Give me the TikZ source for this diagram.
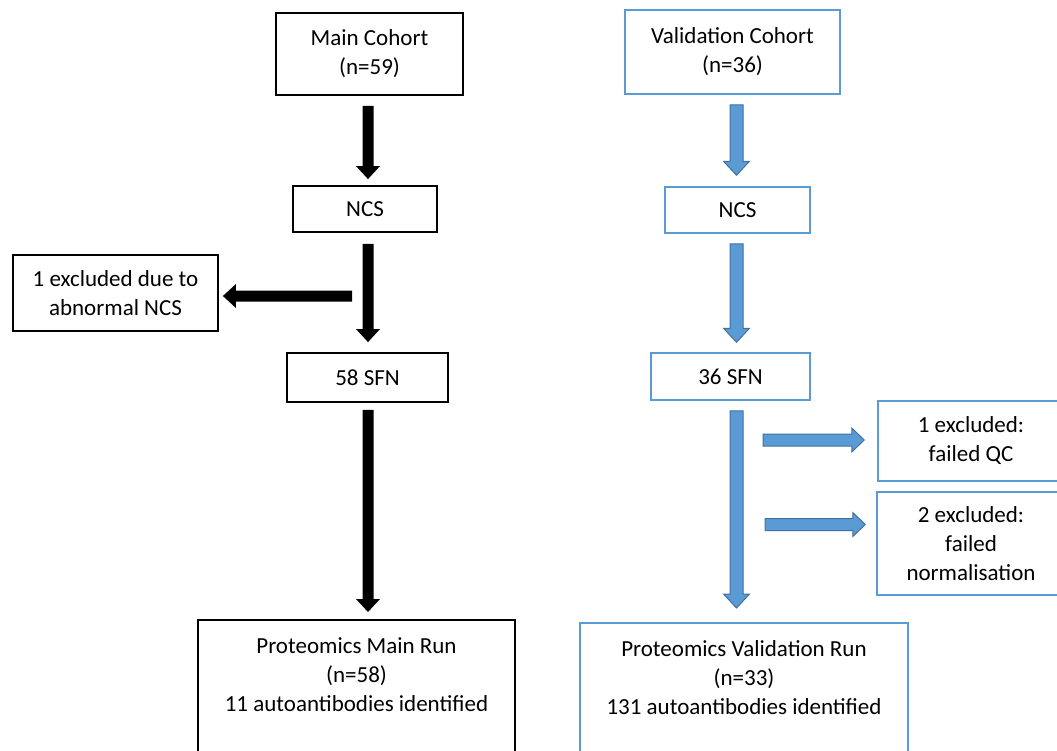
\documentclass[tikz,border=0pt]{standalone}
\usepackage{fontspec}
\setmainfont{Carlito}
\usetikzlibrary{calc}
\definecolor{boxblue}{HTML}{5B9BD5}
\definecolor{arrowblue}{HTML}{5B9BD5}
\definecolor{arrowdark}{HTML}{41719C}
\def\aw{6pt}\def\ahw{12pt}\def\ahl{13pt}
\tikzset{
  txt/.style={font=\fontsize{23}{29}\selectfont, align=center, inner sep=0pt, text=black},
  kbox/.style={txt, draw=black, line width=1.8pt, rectangle},
  bbox/.style={txt, draw=boxblue, line width=1.5pt, rectangle},
  dims/.code n args={3}{\def\aw{#1}\def\ahw{#2}\def\ahl{#3}},
  blockarrow/.style={to path={
    let \p1=(\tikztostart), \p2=(\tikztotarget),
        \n1={veclen(\x2-\x1,\y2-\y1)},
        \n2={(\x2-\x1)/\n1}, \n3={(\y2-\y1)/\n1} in
    ({\x1-(\n3)*\aw},{\y1+(\n2)*\aw})
    -- ({\x2-(\n2)*\ahl-(\n3)*\aw},{\y2-(\n3)*\ahl+(\n2)*\aw})
    -- ({\x2-(\n2)*\ahl-(\n3)*\ahw},{\y2-(\n3)*\ahl+(\n2)*\ahw})
    -- (\x2,\y2)
    -- ({\x2-(\n2)*\ahl+(\n3)*\ahw},{\y2-(\n3)*\ahl-(\n2)*\ahw})
    -- ({\x2-(\n2)*\ahl+(\n3)*\aw},{\y2-(\n3)*\ahl-(\n2)*\aw})
    -- ({\x1+(\n3)*\aw},{\y1-(\n2)*\aw}) -- cycle}},
  karrow/.style={blockarrow, fill=black, draw=none, dims={5.5pt}{12pt}{13pt}},
  barrow/.style={blockarrow, fill=arrowblue, draw=arrowdark, line width=1pt, dims={6.5pt}{13pt}{14pt}},
  bharrow/.style={blockarrow, fill=arrowblue, draw=arrowdark, line width=1pt, dims={6pt}{12pt}{12.5pt}},
}
\begin{document}
\begin{tikzpicture}[x=1pt,y=-1pt]
\useasboundingbox (0,0) rectangle (1057,750);
\clip (0,0) rectangle (1057,750);
\fill[white] (0,0) rectangle (1057,750);

% left column
\node[kbox, minimum width=187pt, minimum height=82pt] (mc) at (369.5,54) {Main Cohort\\(n=59)};
\node[kbox, minimum width=144pt, minimum height=46pt] (ncsL) at (365,209) {NCS};
\node[kbox, minimum width=205pt, minimum height=76pt] (excl) at (115.5,293) {1 excluded due to\\abnormal NCS};
\node[kbox, minimum width=161pt, minimum height=49pt] (sfnL) at (367.5,377.5) {58 SFN};
\node[kbox, minimum width=317pt, minimum height=200pt, anchor=north] (mainrun) at (356.5,619) {};
\node[txt, anchor=north] (mainruntxt) at (356.5,637) {Proteomics Main Run\\(n=58)\\11 autoantibodies identified};

% right column
\node[bbox, minimum width=215pt, minimum height=84pt] (vc) at (732.5,52) {Validation Cohort\\(n=36)};
\node[bbox, minimum width=145pt, minimum height=46pt] (ncsR) at (737.5,210) {NCS};
\node[bbox, minimum width=159pt, minimum height=47pt] (sfnR) at (730.5,376.5) {36 SFN};
\node[bbox, minimum width=186pt, minimum height=80pt] (qc) at (971,441) {1 excluded:\\failed QC};
\node[bbox, minimum width=188pt, minimum height=103pt] (norm) at (971,543.5) {2 excluded:\\failed\\normalisation};
\node[bbox, minimum width=328pt, minimum height=200pt, anchor=north] (valrun) at (744,622) {};
\node[txt, anchor=north] (valruntxt) at (744,640) {Proteomics Validation Run\\(n=33)\\131 autoantibodies identified};

% black arrows
\coordinate (k1s) at ($(mc.south)+(-1.5,10)$);
\draw[karrow] (k1s) to ($(k1s |- ncsL.north)+(0,-6)$);
\coordinate (k2s) at ($(ncsL.south)+(3,11)$);
\draw[karrow] (k2s) to ($(k2s |- sfnL.north)+(0,-10)$);
\coordinate (k3s) at ($(sfnL.south)+(0.5,7)$);
\draw[karrow] (k3s) to ($(k3s |- mainrun.north)+(0,-7)$);
\coordinate (kxs) at (352,296);
\draw[karrow] (kxs) to ($(kxs -| excl.east)+(4,0)$);

% blue arrows
\coordinate (b1s) at ($(vc.south)+(4,10)$);
\draw[barrow] (b1s) to ($(b1s |- ncsR.north)+(0,-11)$);
\coordinate (b2s) at ($(ncsR.south)+(-1,10)$);
\draw[barrow] (b2s) to ($(b2s |- sfnR.north)+(0,-10)$);
\coordinate (b3s) at ($(sfnR.south)+(6,10)$);
\draw[barrow] (b3s) to ($(b3s |- valrun.north)+(0,-14)$);
\coordinate (bqs) at (763,440);
\draw[bharrow] (bqs) to ($(bqs -| qc.west)+(-13,0)$);
\coordinate (bns) at (765,524.5);
\draw[bharrow] (bns) to ($(bns -| norm.west)+(-11,0)$);
\end{tikzpicture}
\end{document}
